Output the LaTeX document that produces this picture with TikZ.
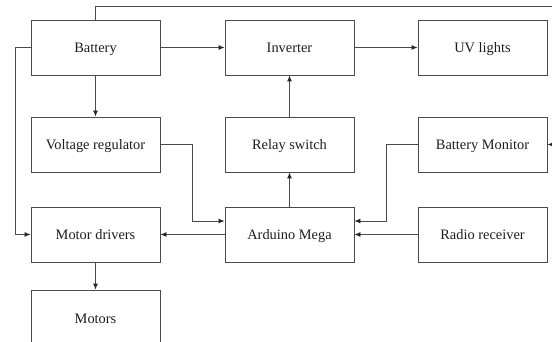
\documentclass[tikz,border=0pt]{standalone}
\usepackage{fontspec}
\setmainfont{Liberation Serif}
\usetikzlibrary{arrows.meta}
\definecolor{linec}{HTML}{4A4A4A}
\definecolor{textc}{HTML}{1E1E1E}
\tikzset{
  blk/.style={draw=linec, line width=0.9pt, minimum width=129pt, minimum height=55pt,
    inner sep=0pt, text=textc, text height=11pt, text depth=0pt,
    font=\fontsize{14.4}{16}\selectfont},
  conn/.style={draw=linec, line width=0.9pt},
  arr/.style={conn, -{Latex[length=6pt,width=5pt,color=black!85]}}
}
\begin{document}
\begin{tikzpicture}[x=1pt,y=-1pt]
\useasboundingbox (0,0) rectangle (552,342);
\clip (0,0) rectangle (552,342);
\fill[white] (0,0) rectangle (552,342);
\node[blk] (bat) at (95.5,47.5) {Battery};
\node[blk] (inv) at (289.5,47.5) {Inverter};
\node[blk] (uv) at (482.5,47.5) {UV lights};
\node[blk] (vr) at (95.5,144.5) {Voltage regulator};
\node[blk] (rel) at (289.5,144.5) {Relay switch};
\node[blk] (bm) at (482.5,144.5) {Battery Monitor};
\node[blk] (md) at (95.5,234.5) {Motor drivers};
\node[blk] (ard) at (289.5,234.5) {Arduino Mega};
\node[blk] (rr) at (482.5,234.5) {Radio receiver};
\node[blk] (mot) at (95.5,317.5) {Motors};
\coordinate (tr) at (570,6);
\coordinate (lf) at (15,47.5);
\coordinate (vrk) at (192,144.5);
\coordinate (bmk) at (386,144.5);
\draw[arr] (bat) -- (inv);
\draw[arr] (inv) -- (uv);
\draw[arr] (bat) -- (vr);
\draw[arr] (rel) -- (inv);
\draw[arr] (ard) -- (rel);
\draw[arr] (ard) -- (md);
\draw[arr] (rr) -- (ard);
\draw[arr] (md) -- (mot);
\draw[arr] (bat.north) |- (tr) |- (bm.east);
\draw[arr] (bat.west) -- (lf) |- (md.west);
\draw[arr] (vr.east) -- (vrk) |- ([yshift=13.5pt]ard.west);
\draw[arr] (bm.west) -- (bmk) |- ([yshift=13.5pt]ard.east);
\end{tikzpicture}
\end{document}
